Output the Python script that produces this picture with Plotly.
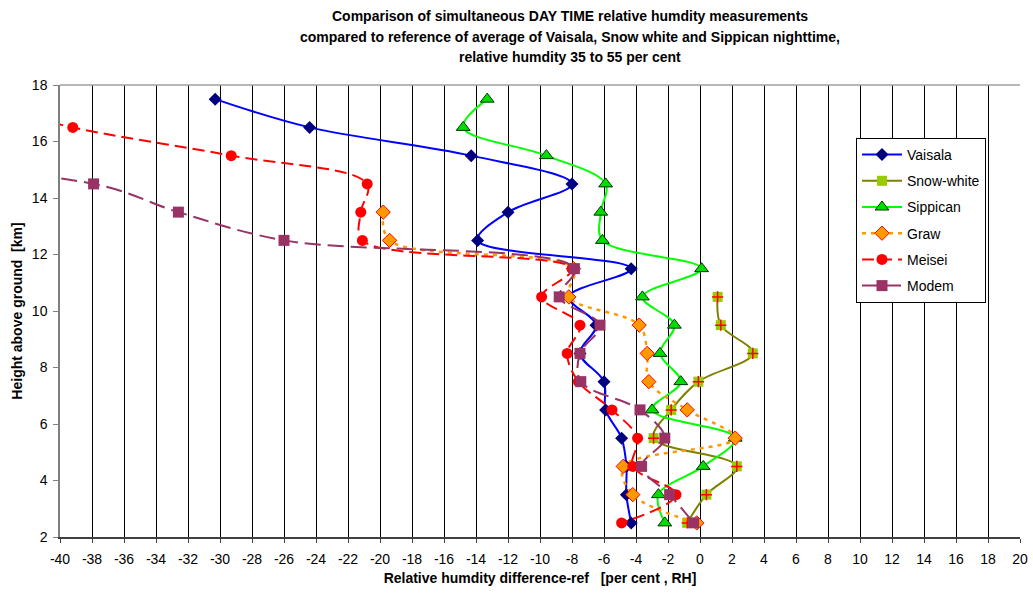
import plotly.graph_objects as go

# ---------------- data ----------------
heights_all = [17.5, 16.5, 15.5, 14.5, 13.5, 12.5, 11.5, 10.5, 9.5, 8.5, 7.5, 6.5, 5.5, 4.5, 3.5, 2.5]

vaisala_y = heights_all
vaisala_x = [-30.3, -24.4, -14.3, -8.0, -12.0, -13.9, -4.3, -8.2, -6.5, -7.5, -6.0, -5.9, -4.9, -4.6, -4.6, -4.3]

snow_y = [10.5, 9.5, 8.5, 7.5, 6.5, 5.5, 4.5, 3.5, 2.5]
snow_x = [1.1, 1.3, 3.3, -0.1, -1.8, -2.9, 2.3, 0.4, -0.8]

sippican_y = heights_all
sippican_x = [-13.3, -14.8, -9.6, -5.9, -6.2, -6.1, 0.1, -3.6, -1.6, -2.5, -1.2, -3.0, 2.2, 0.2, -2.6, -2.2]

graw_y = [13.5, 12.5, 11.5, 10.5, 9.5, 8.5, 7.5, 6.5, 5.5, 4.5, 3.5, 2.5]
graw_x = [-19.8, -19.4, -7.9, -8.2, -3.8, -3.3, -3.2, -0.8, 2.2, -4.8, -4.2, -0.2]

meisei_y = heights_all
meisei_x = [-46.0, -39.2, -29.3, -20.8, -21.2, -21.1, -8.0, -9.9, -7.5, -8.3, -7.6, -5.5, -3.9, -4.2, -1.5, -4.9]

modem_y = [15.5, 14.5, 13.5, 12.5, 11.5, 10.5, 9.5, 8.5, 7.5, 6.5, 5.5, 4.5, 3.5, 2.5]
modem_x = [-60.0, -37.9, -32.6, -26.0, -7.85, -8.8, -6.25, -7.5, -7.45, -3.75, -2.2, -3.65, -1.9, -0.4]

x_ticks = list(range(-40, 21, 2))
y_ticks = list(range(2, 19, 2))

title_lines = [
    "Comparison of simultaneous DAY TIME relative humdity measurements",
    "compared to reference of average of Vaisala, Snow white and Sippican nighttime,",
    "relative humdity 35 to 55 per cent",
]

FONT = "Arial, Liberation Sans, sans-serif"

fig = go.Figure()

fig.add_trace(go.Scatter(
    x=vaisala_x, y=vaisala_y, name="Vaisala", legendgroup="v",
    mode="lines+markers", line=dict(color="#0000FF", width=2, shape="spline", smoothing=1),
    marker=dict(symbol="diamond", size=10, color="#000080")))

fig.add_trace(go.Scatter(
    x=snow_x, y=snow_y, name="Snow-white", legendgroup="s",
    mode="lines+markers", line=dict(color="#808000", width=2, shape="spline", smoothing=1),
    marker=dict(symbol="square", size=10, color="#99CC00")))
fig.add_trace(go.Scatter(
    x=snow_x, y=snow_y, name="Snow-white", legendgroup="s", showlegend=False,
    mode="markers", hoverinfo="skip",
    marker=dict(symbol="cross-thin", size=8, color="#FF0000", line=dict(color="#FF0000", width=1.5))))

fig.add_trace(go.Scatter(
    x=sippican_x, y=sippican_y, name="Sippican", legendgroup="p",
    mode="lines+markers", line=dict(color="#00FF00", width=2, shape="spline", smoothing=1),
    marker=dict(symbol="triangle-up", size=12, color="#00DD00", line=dict(color="#003300", width=1))))

fig.add_trace(go.Scatter(
    x=graw_x, y=graw_y, name="Graw", legendgroup="g",
    mode="lines+markers", line=dict(color="#FF9900", width=2.5, shape="spline", smoothing=1, dash="4px,5px"),
    marker=dict(symbol="diamond", size=11, color="#FF9900", line=dict(color="#FF0000", width=1))))

fig.add_trace(go.Scatter(
    x=meisei_x, y=meisei_y, name="Meisei", legendgroup="m",
    mode="lines+markers", line=dict(color="#FF0000", width=2, shape="spline", smoothing=1, dash="12px,6px"),
    marker=dict(symbol="circle", size=11, color="#FF0000")))

fig.add_trace(go.Scatter(
    x=modem_x, y=modem_y, name="Modem", legendgroup="d",
    mode="lines+markers", line=dict(color="#993366", width=2, shape="spline", smoothing=1, dash="16px,7px"),
    marker=dict(symbol="square", size=11, color="#993366")))

annotations = []
for i, t in enumerate(title_lines):
    annotations.append(dict(
        text="<b>" + t + "</b>", xref="paper", yref="paper",
        x=(570 - 60) / 960, y=(537 - (16 + 20.5 * i)) / 452,
        xanchor="center", yanchor="middle", showarrow=False,
        font=dict(family=FONT, size=14, color="black")))

fig.update_layout(
    width=1033, height=594,
    margin=dict(l=60, r=13, t=85, b=57),
    paper_bgcolor="white", plot_bgcolor="white",
    font=dict(family=FONT, size=14, color="black"),
    showlegend=True,
    legend=dict(x=(856 - 60) / 960, y=(537 - 138) / 452, xanchor="left", yanchor="top",
                bgcolor="white", bordercolor="black", borderwidth=1,
                font=dict(family=FONT, size=14, color="black"),
                itemwidth=40, tracegroupgap=5),
    annotations=annotations,
    shapes=[dict(type="line", xref="paper", yref="paper", x0=0, x1=1, y0=1, y1=1,
                 line=dict(color="#A0A0A0", width=1.5))],
)

fig.update_xaxes(
    range=[-40, 20], tickmode="array", tickvals=x_ticks, ticktext=[str(v) for v in x_ticks],
    showgrid=True, gridcolor="black", gridwidth=1, zeroline=False, automargin=False,
    showline=True, linecolor="#404040", linewidth=1.5,
    ticks="outside", ticklen=4, tickcolor="#404040", ticklabelstandoff=4,
    tickfont=dict(family=FONT, size=14, color="black"),
    title=dict(text="<b>Relative humdity difference-ref   [per cent , RH]</b>",
               font=dict(family=FONT, size=14, color="black"), standoff=8),
)
fig.update_yaxes(
    range=[2, 18], tickmode="array", tickvals=y_ticks, ticktext=[str(v) for v in y_ticks],
    showgrid=False, zeroline=False, automargin=False,
    showline=True, linecolor="#808080", linewidth=1.5,
    ticks="outside", ticklen=5, tickcolor="#808080", ticklabelstandoff=3,
    tickfont=dict(family=FONT, size=14, color="black"),
    title=dict(text="<b>Height above ground  [km]</b>",
               font=dict(family=FONT, size=14, color="black"), standoff=6),
)

fig.write_html("out.html")
